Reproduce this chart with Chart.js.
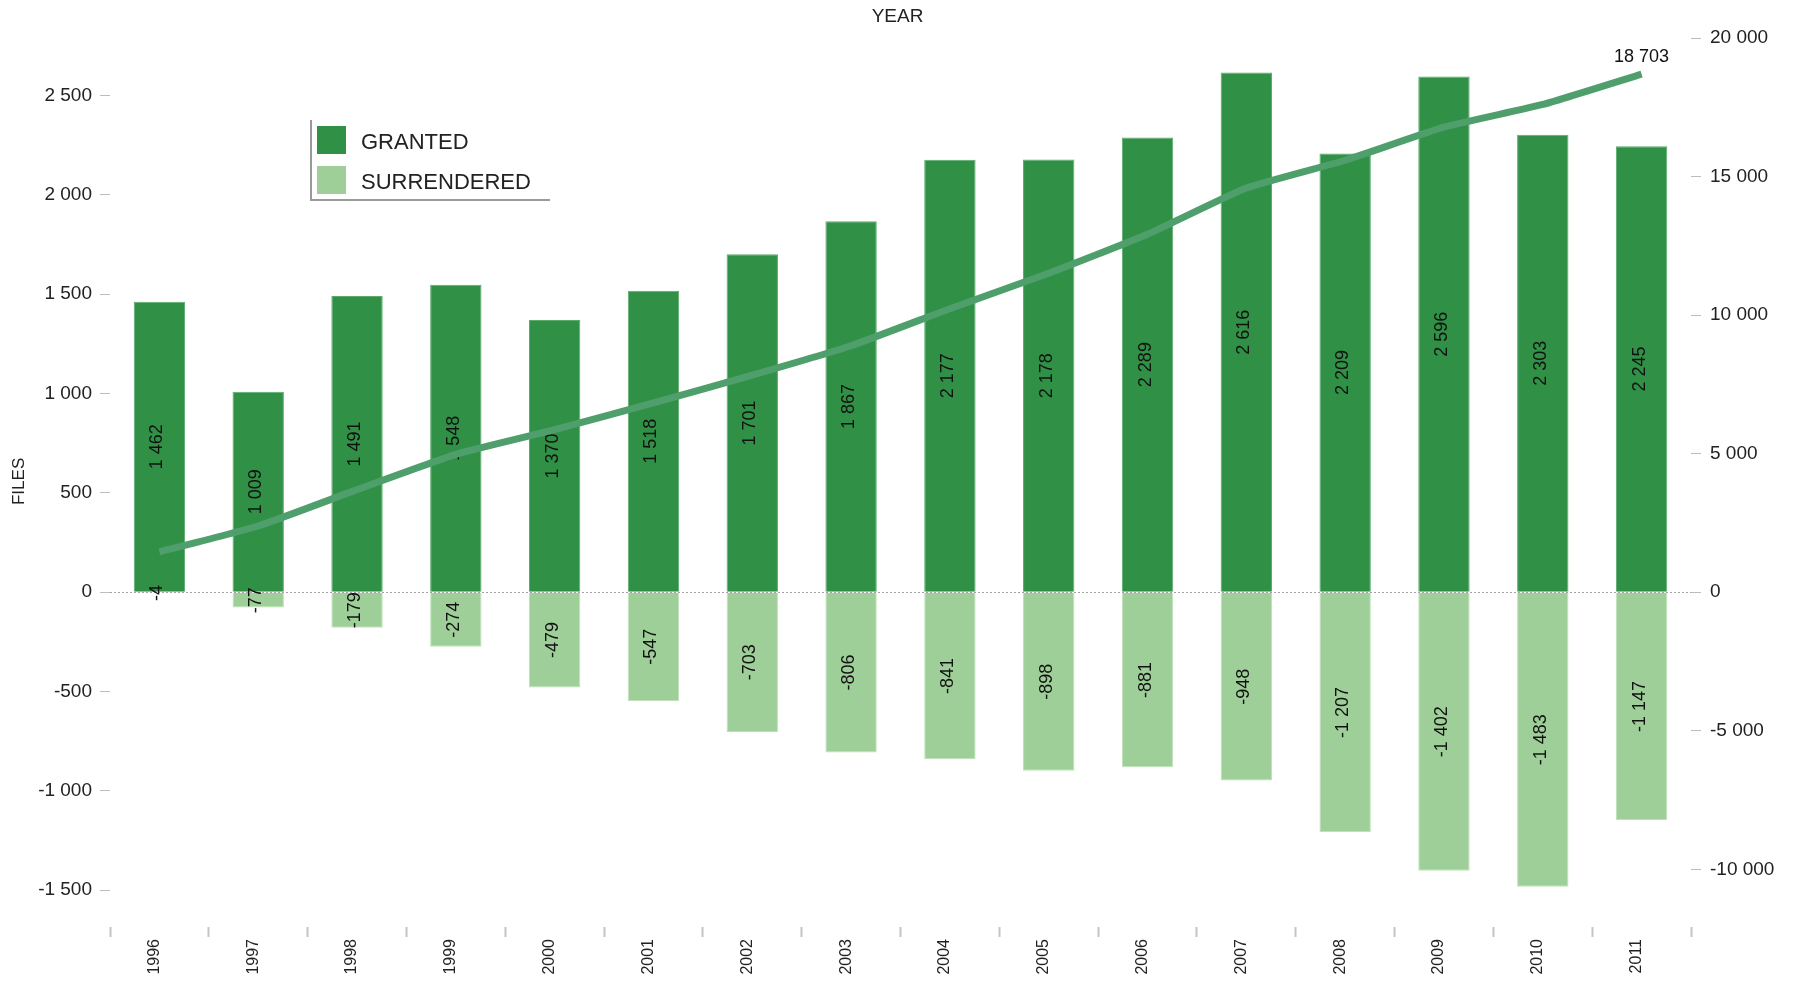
<!DOCTYPE html>
<html>
<head>
<meta charset="utf-8">
<title>Files granted and surrendered by year</title>
<script src="https://cdn.jsdelivr.net/npm/chart.js@4.4.1/dist/chart.umd.min.js"></script>
<style>
    html, body { margin: 0; padding: 0; background: #fff; }
    #wrap { position: relative; width: 1795px; height: 981px; }
    #legend {
        position: absolute; left: 310px; top: 120px; width: 238px; height: 79px;
        border-left: 2px solid #9a9a9a; border-bottom: 2px solid #9a9a9a;
        font-family: "Liberation Sans", Arial, sans-serif; font-size: 22px; color: #222;
    }
    .item { position: absolute; left: 5px; height: 28px; width: 225px; }
    .swatch { position: absolute; left: 0; top: 0; width: 29px; height: 28px; }
    .txt { position: absolute; left: 44px; top: 2px; line-height: 28px; white-space: nowrap; }
</style>
</head>
<body>
<div id="wrap">
    <canvas id="filesChart"></canvas>
    <div id="legend">
        <div class="item" style="top: 6px;"><div class="swatch" style="background: #309045;"></div><span class="txt">GRANTED</span></div>
        <div class="item" style="top: 46px;"><div class="swatch" style="background: #9fcf98;"></div><span class="txt">SURRENDERED</span></div>
    </div>
</div>
<script>
// Data
const years = ['1996', '1997', '1998', '1999', '2000', '2001', '2002', '2003',
               '2004', '2005', '2006', '2007', '2008', '2009', '2010', '2011'];
const granted = [1462, 1009, 1491, 1548, 1370, 1518, 1701, 1867,
                 2177, 2178, 2289, 2616, 2209, 2596, 2303, 2245];
const surrendered = [-4, -77, -179, -274, -479, -547, -703, -806,
                     -841, -898, -881, -948, -1207, -1402, -1483, -1147];
// running total of files in force (right axis)
const totalFiles = [1458, 2390, 3702, 4976, 5867, 6838, 7836, 8897,
                    10233, 11513, 12921, 14589, 15591, 16785, 17605, 18703];

// axis ranges (zero lines up on both sides)
const filesMin = -1685;
const filesMax = 2801;
const totalMin = -12083;
const totalMax = 20083;

const fontFamily = '"Liberation Sans", Arial, sans-serif';
Chart.defaults.font.family = fontFamily;
Chart.defaults.color = '#222';

// format numbers with a space as thousands separator
function fmt(v) {
    return String(v).replace(/\B(?=(\d{3})+(?!\d))/g, ' ');
}

// Draw the value labels inside the bars and at the end of the line
const valueLabels = {
    id: 'valueLabels',
    afterDatasetDraw(chart, args) {
        const meta = args.meta;
        const ds = chart.data.datasets[args.index];
        const ctx = chart.ctx;
        ctx.save();
        ctx.fillStyle = '#111';
        ctx.textAlign = 'center';
        ctx.textBaseline = 'middle';
        if (meta.type === 'bar') {
            ctx.font = '18px ' + fontFamily;
            meta.data.forEach((bar, i) => {
                const cy = (bar.y + bar.base) / 2;
                ctx.save();
                ctx.translate(bar.x - 2, cy);
                ctx.rotate(-Math.PI / 2);
                ctx.fillText(fmt(ds.data[i]), 0, 0);
                ctx.restore();
            });
        } else if (meta.type === 'line') {
            const last = meta.data[meta.data.length - 1];
            ctx.font = '18px ' + fontFamily;
            ctx.fillText(fmt(ds.data[ds.data.length - 1]), last.x, last.y - 17);
        }
        ctx.restore();
    }
};

// keep only the round ticks
function roundTicks(step) {
    return (scale) => {
        scale.ticks = scale.ticks.filter(t => Math.abs(t.value % step) < 1e-6);
    };
}

const ctx = document.getElementById('filesChart').getContext('2d');
const filesChart = new Chart(ctx, {
    data: {
        labels: years,
        datasets: [
            {
                type: 'line',
                label: 'TOTAL',
                data: totalFiles,
                yAxisID: 'y2',
                borderColor: '#4f9f6c',
                borderWidth: 7,
                borderCapStyle: 'butt',
                pointRadius: 0,
                tension: 0.15,
                fill: false,
                order: 0,
            },
            {
                type: 'bar',
                label: 'GRANTED',
                data: granted,
                yAxisID: 'y',
                backgroundColor: '#309045',
                borderColor: '#5aab6c',
                borderWidth: 1,
                barPercentage: 0.52,
                categoryPercentage: 1,
                stack: 'files',
                order: 2,
            },
            {
                type: 'bar',
                label: 'SURRENDERED',
                data: surrendered,
                yAxisID: 'y',
                backgroundColor: '#9fcf98',
                borderColor: '#bfe0b9',
                borderWidth: 1,
                barPercentage: 0.52,
                categoryPercentage: 1,
                stack: 'files',
                order: 1,
            },
        ],
    },
    options: {
        responsive: true,
        maintainAspectRatio: false,
        animation: false,
        layout: { padding: 0 },
        scales: {
            x: {
                stacked: true,
                offset: true,
                grid: {
                    offset: true,
                    drawOnChartArea: false,
                    tickLength: 10,
                    tickWidth: 2,
                    tickColor: '#c4c4c4',
                },
                border: { display: false },
                ticks: {
                    autoSkip: false,
                    minRotation: 90,
                    maxRotation: 90,
                    padding: 2,
                    labelOffset: -5,
                    font: { size: 16 },
                },
                afterFit: (scale) => { scale.height = 54; },
            },
            y: {
                position: 'left',
                stacked: true,
                min: filesMin,
                max: filesMax,
                grid: {
                    color: (c) => (c.tick && c.tick.value === 0 ? '#a0a0a0' : 'rgba(0,0,0,0)'),
                    tickColor: '#bdbdbd',
                    tickLength: 10,
                },
                border: { display: false, dash: [2, 2] },
                ticks: {
                    includeBounds: false,
                    padding: 8,
                    font: { size: 19 },
                    callback: (v) => fmt(v),
                },
                title: {
                    display: true,
                    text: 'FILES',
                    font: { size: 17 },
                    padding: { top: 9, bottom: 0 },
                },
                afterBuildTicks: roundTicks(500),
                afterFit: (scale) => { scale.width = 110; },
            },
            y2: {
                position: 'right',
                min: totalMin,
                max: totalMax,
                grid: {
                    drawOnChartArea: false,
                    tickColor: '#bdbdbd',
                    tickLength: 10,
                },
                border: { display: false },
                ticks: {
                    includeBounds: false,
                    padding: 9,
                    font: { size: 19 },
                    callback: (v) => fmt(v),
                },
                afterBuildTicks: roundTicks(5000),
                afterFit: (scale) => { scale.width = 104; },
            },
        },
        plugins: {
            legend: { display: false },
            tooltip: { enabled: false },
            title: {
                display: true,
                text: 'YEAR',
                color: '#222',
                font: { size: 19, weight: 'normal' },
                padding: { top: 5, bottom: 8 },
            },
        },
    },
    plugins: [valueLabels],
});
</script>
</body>
</html>
